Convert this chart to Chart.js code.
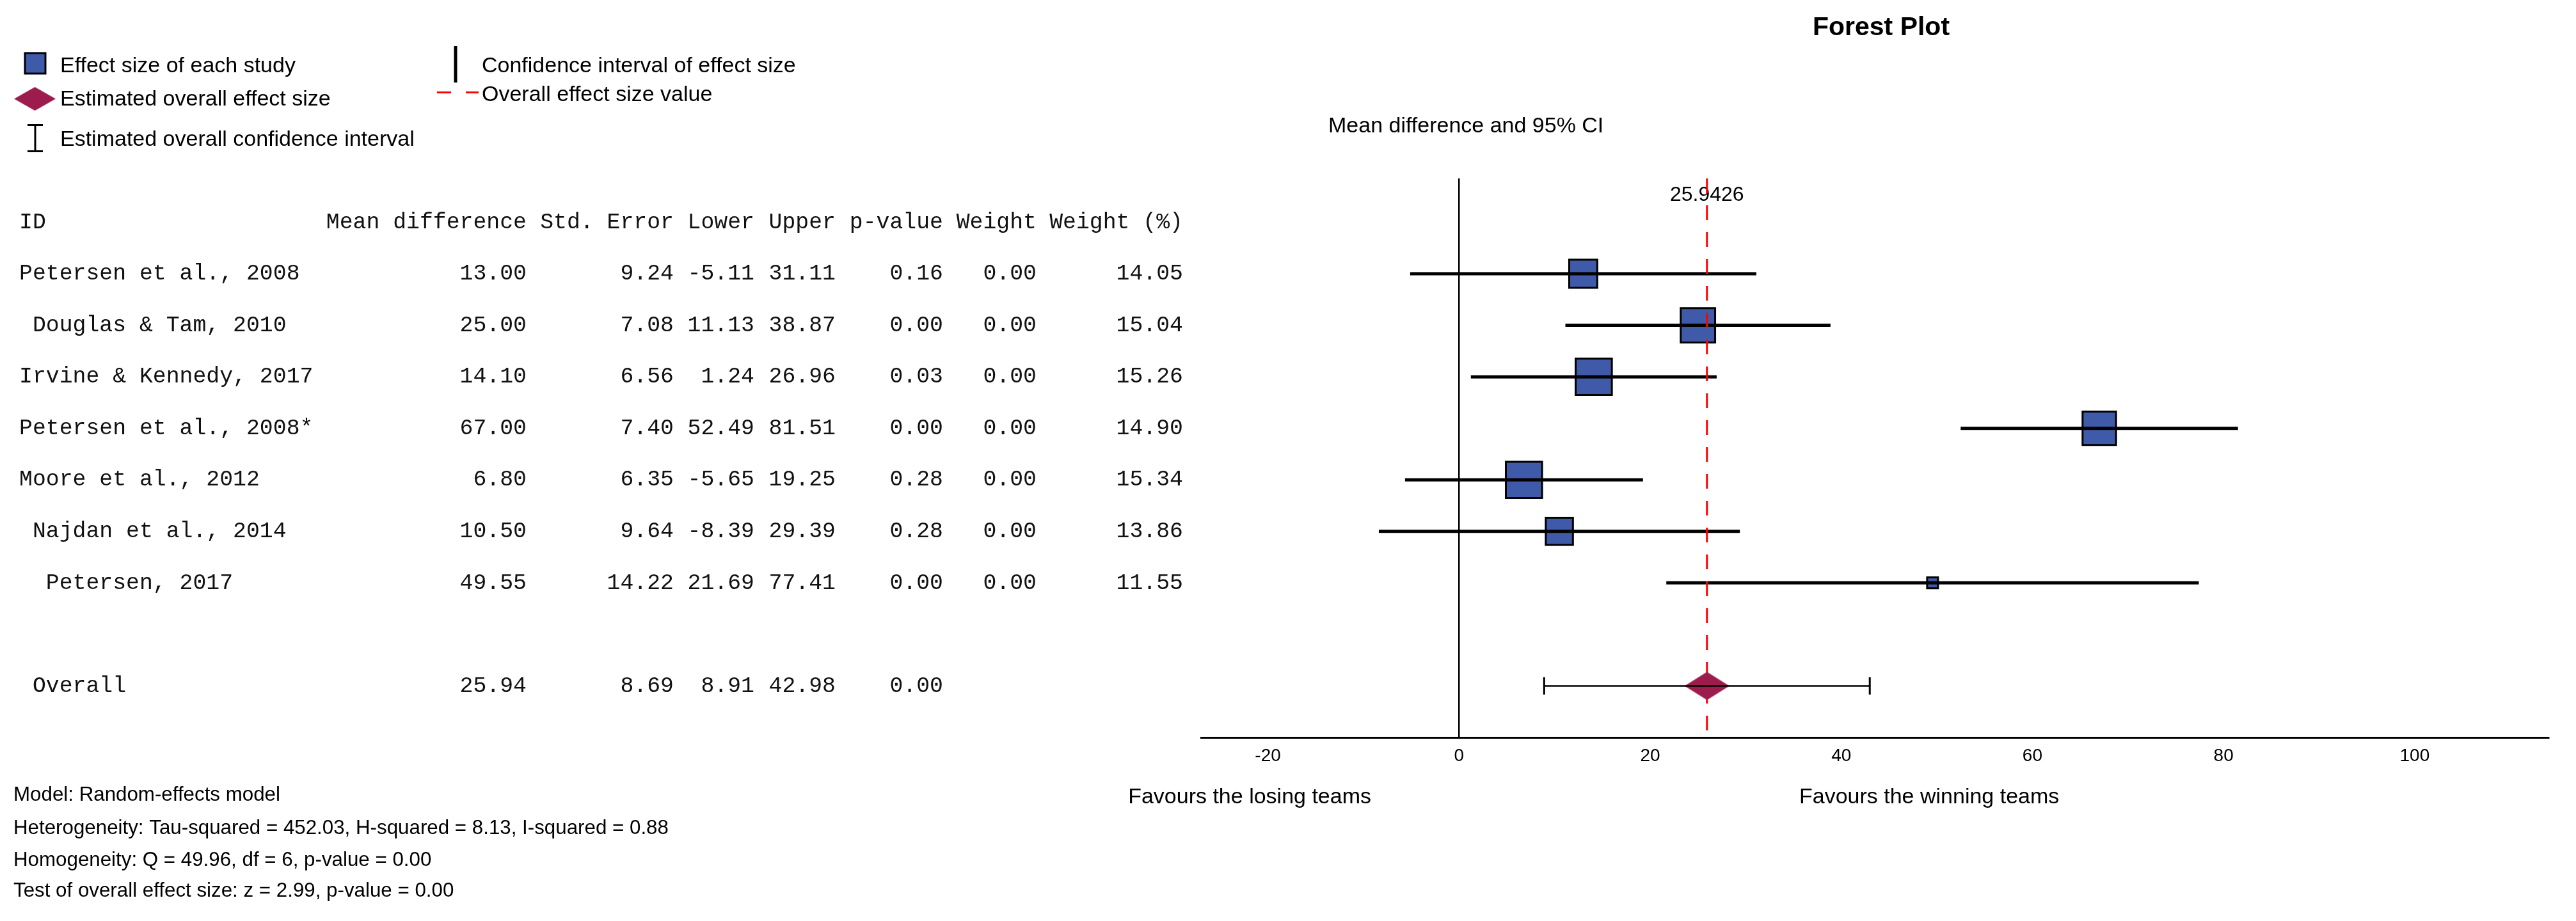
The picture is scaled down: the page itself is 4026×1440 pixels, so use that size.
<!DOCTYPE html>
<html>
<head>
<meta charset="utf-8">
<title>Forest Plot</title>
<script src="https://cdn.jsdelivr.net/npm/chart.js@4.4.1/dist/chart.umd.min.js"></script>
<style>
  html, body { margin: 0; padding: 0; background: #fff; }
  #wrap { width: 4026px; height: 1440px; }
</style>
</head>
<body>
<div id="wrap"><canvas id="forest" width="4026" height="1440"></canvas></div>
<script>
// Study table
const studies = [
  'Petersen et al., 2008',
  ' Douglas & Tam, 2010',
  'Irvine & Kennedy, 2017',
  'Petersen et al., 2008*',
  'Moore et al., 2012',
  ' Najdan et al., 2014',
  '  Petersen, 2017'
];
const meanDiff  = [13.00, 25.00, 14.10, 67.00, 6.80, 10.50, 49.55];
const stdErr    = [9.24, 7.08, 6.56, 7.40, 6.35, 9.64, 14.22];
const lower     = [-5.11, 11.13, 1.24, 52.49, -5.65, -8.39, 21.69];
const upper     = [31.11, 38.87, 26.96, 81.51, 19.25, 29.39, 77.41];
const pValue    = [0.16, 0.00, 0.03, 0.00, 0.28, 0.28, 0.00];
const weight    = [0.00, 0.00, 0.00, 0.00, 0.00, 0.00, 0.00];
const weightPct = [14.05, 15.04, 15.26, 14.90, 15.34, 13.86, 11.55];

// Pooled (random-effects) estimate
const overallLabel = ' Overall';
const overallMean = 25.9426;
const overallSE = 8.69;
const overallLower = 8.91;
const overallUpper = 42.98;
const overallP = 0.00;

const tableHeader = ['Mean difference', 'Std. Error', 'Lower', 'Upper', 'p-value', 'Weight', 'Weight (%)'];
const xTicks = [-20, 0, 20, 40, 60, 80, 100];

const statsLines = [
  'Model: Random-effects model',
  'Heterogeneity: Tau-squared = 452.03, H-squared = 8.13, I-squared = 0.88',
  'Homogeneity: Q = 49.96, df = 6, p-value = 0.00',
  'Test of overall effect size: z = 2.99, p-value = 0.00'
];

// row layout on the y scale: header at 0, studies 1..7, overall at 9
const headerRow = 0;
const overallRow = studies.length + 2;
const yTop = -0.85;
const yBottom = 10;

const SANS = '"Liberation Sans", Arial, sans-serif';
const MONO = '"Liberation Mono", "Courier New", monospace';
const BLUE = '#3F5AA8';
const MAROON = '#9C1C4E';

// diamond marker for the pooled estimate
const diamond = document.createElement('canvas');
diamond.width = 70;
diamond.height = 44;
(function () {
  const d = diamond.getContext('2d');
  d.fillStyle = MAROON;
  d.beginPath();
  d.moveTo(0, 22); d.lineTo(35, 0); d.lineTo(70, 22); d.lineTo(35, 44);
  d.closePath();
  d.fill();
})();

const ciSets = studies.map((s, i) => ({
  label: 'CI ' + s,
  data: [{ x: lower[i], y: i + 1 }, { x: upper[i], y: i + 1 }],
  showLine: true,
  borderColor: '#000',
  borderWidth: 5,
  pointRadius: 0,
  order: 3
}));

const datasets = [
  {
    label: 'Overall CI',
    data: [{ x: overallLower, y: overallRow }, { x: overallUpper, y: overallRow }],
    showLine: true,
    borderColor: '#000',
    borderWidth: 2.5,
    pointStyle: 'line',
    pointRotation: 90,
    pointRadius: 13.5,
    pointBorderWidth: 3,
    pointBorderColor: '#000',
    order: 0
  },
  {
    label: 'Overall',
    data: [{ x: overallMean, y: overallRow }],
    pointStyle: diamond,
    pointRadius: 22,
    order: 1
  },
  {
    label: 'Overall effect size value',
    data: [{ x: overallMean, y: yTop }, { x: overallMean, y: yBottom }],
    showLine: true,
    borderColor: '#f00',
    borderWidth: 3,
    borderDash: [23, 19],
    pointRadius: 0,
    order: 2
  },
  ...ciSets,
  {
    label: 'Effect size',
    data: meanDiff.map((m, i) => ({ x: m, y: i + 1 })),
    pointStyle: 'rect',
    pointRadius: [31, 38, 40, 37, 40, 30, 12],
    backgroundColor: BLUE,
    borderColor: '#000',
    borderWidth: 3,
    order: 4
  }
];

function text(ctx, str, x, y, font, align) {
  ctx.font = font;
  ctx.textAlign = align || 'left';
  ctx.fillText(str, x, y);
}

const forestText = {
  id: 'forestText',
  beforeDatasetsDraw(chart) {
    const { ctx, scales: { x } } = chart;
    ctx.save();
    ctx.fillStyle = '#000';
    ctx.textBaseline = 'middle';
    text(ctx, overallMean.toFixed(4), x.getPixelForValue(overallMean), 305, '32px ' + SANS, 'center');
    ctx.restore();
  },
  afterDraw(chart) {
    const { ctx, scales: { y } } = chart;
    ctx.save();
    ctx.fillStyle = '#000';
    ctx.textBaseline = 'middle';

    // titles
    text(ctx, 'Forest Plot', 2940, 44, 'bold 41px ' + SANS, 'center');
    text(ctx, 'Mean difference and 95% CI', 2076, 198, '34px ' + SANS);
    text(ctx, 'Favours the losing teams', 2143, 1247, '34px ' + SANS, 'right');
    text(ctx, 'Favours the winning teams', 2812, 1247, '34px ' + SANS);

    // table
    const cols = [823, 1053, 1179, 1306, 1474, 1620, 1849];
    const mono = '34.8px ' + MONO;
    ctx.fillStyle = '#111';
    const hy = y.getPixelForValue(headerRow);
    text(ctx, 'ID', 30, hy, mono);
    tableHeader.forEach((h, c) => text(ctx, h, cols[c], hy, mono, 'right'));
    studies.forEach((s, i) => {
      const ry = y.getPixelForValue(i + 1);
      text(ctx, s, 30, ry, mono);
      [meanDiff, stdErr, lower, upper, pValue, weight, weightPct].forEach((arr, c) => {
        text(ctx, arr[i].toFixed(2), cols[c], ry, mono, 'right');
      });
    });
    const oy = y.getPixelForValue(overallRow);
    text(ctx, overallLabel, 30, oy, mono);
    [overallMean, overallSE, overallLower, overallUpper, overallP].forEach((v, c) => {
      text(ctx, v.toFixed(2), cols[c], oy, mono, 'right');
    });

    // bottom statistics
    ctx.fillStyle = '#000';
    [1243, 1295, 1345, 1393].forEach((ly, k) => text(ctx, statsLines[k], 21, ly, '31.3px ' + SANS));

    // legend
    ctx.fillStyle = BLUE;
    ctx.strokeStyle = '#000';
    ctx.lineWidth = 3;
    ctx.fillRect(39, 83, 32, 32);
    ctx.strokeRect(39, 83, 32, 32);
    ctx.drawImage(diamond, 22, 136, 65, 37);

    ctx.beginPath();
    ctx.moveTo(55, 194); ctx.lineTo(55, 238);
    ctx.moveTo(43, 195.5); ctx.lineTo(67, 195.5);
    ctx.moveTo(43, 236.5); ctx.lineTo(67, 236.5);
    ctx.stroke();

    ctx.lineWidth = 5;
    ctx.beginPath();
    ctx.moveTo(712, 72); ctx.lineTo(712, 129);
    ctx.stroke();

    ctx.strokeStyle = '#f00';
    ctx.lineWidth = 3;
    ctx.setLineDash([22, 23]);
    ctx.beginPath();
    ctx.moveTo(683, 144.5); ctx.lineTo(748, 144.5);
    ctx.stroke();
    ctx.setLineDash([]);

    ctx.fillStyle = '#000';
    const lf = '34px ' + SANS;
    text(ctx, 'Effect size of each study', 94, 104, lf);
    text(ctx, 'Estimated overall effect size', 94, 156, lf);
    text(ctx, 'Estimated overall confidence interval', 94, 219, lf);
    text(ctx, 'Confidence interval of effect size', 753, 104, lf);
    text(ctx, 'Overall effect size value', 753, 149, lf);
    ctx.restore();
  }
};

new Chart(document.getElementById('forest'), {
  type: 'scatter',
  data: { datasets },
  plugins: [forestText],
  options: {
    responsive: false,
    animation: false,
    devicePixelRatio: 1,
    events: [],
    layout: { padding: { left: 1877, right: 37, top: 279, bottom: 247 } },
    plugins: {
      legend: { display: false },
      tooltip: { enabled: false },
      title: { display: false }
    },
    scales: {
      x: {
        type: 'linear',
        min: -27,
        max: 114,
        afterBuildTicks: (axis) => { axis.ticks = xTicks.map(v => ({ value: v })); },
        afterFit: (axis) => { axis.height = 40; },
        ticks: {
          padding: 12,
          color: '#000',
          font: { family: SANS, size: 28 },
          callback: (v) => String(v)
        },
        grid: {
          drawTicks: false,
          lineWidth: 2.5,
          color: (c) => (c.tick && c.tick.value === 0 ? '#000' : 'rgba(0,0,0,0)')
        },
        border: { display: true, color: '#000', width: 3 }
      },
      y: {
        type: 'linear',
        reverse: true,
        min: yTop,
        max: yBottom,
        display: false
      }
    }
  }
});
</script>
</body>
</html>
